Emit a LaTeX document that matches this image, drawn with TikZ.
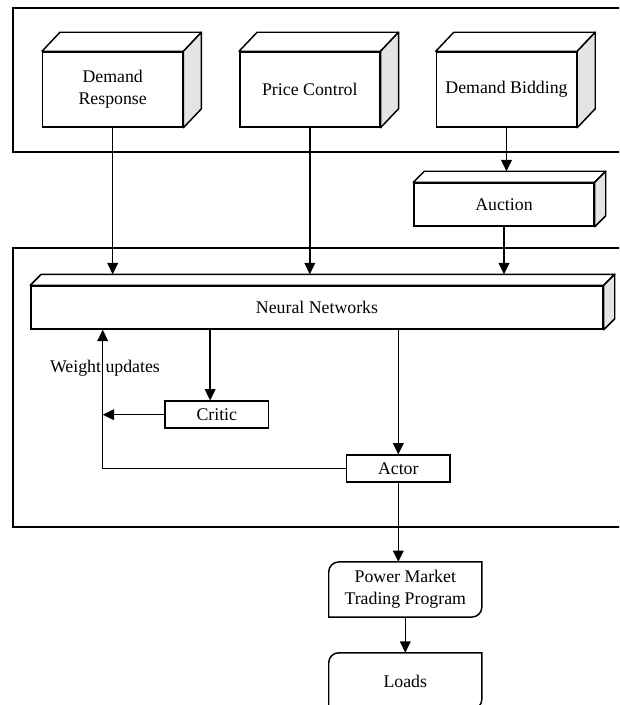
\documentclass[tikz,border=0pt]{standalone}
\usepackage{fontspec}
\setmainfont{Liberation Serif}
\usetikzlibrary{arrows.meta}
\definecolor{sidegray}{RGB}{228, 228, 228}

\tikzset{
  every node/.style={font=\fontsize{15.2}{18.5}\selectfont},
  box/.style={draw, fill=white, line width=1.25pt, align=center, inner sep=0pt},
  arr/.style={-{Triangle[length=0.34cm, width=0.32cm]}, line width=1.25pt},
  line/.style={line width=1.25pt}
}

% 3D block: top face and shaded side face on a node
\newcommand{\blockfaces}[3]{%
  \draw[line, fill=white, line join=round] (#1.north west) -- ([shift={(#2,#3)}]#1.north west)
    -- ([shift={(#2,#3)}]#1.north east) -- (#1.north east) -- cycle;
  \draw[line, fill=sidegray, line join=round] (#1.north east) -- ([shift={(#2,#3)}]#1.north east)
    -- ([shift={(#2,#3)}]#1.south east) -- (#1.south east) -- cycle;
}

\begin{document}
\begin{tikzpicture}[x=0.03cm, y=-0.03cm]
        \useasboundingbox (0,0) rectangle (619,705);
        \clip (0,0) rectangle (619,705);

        % Frames
        \draw[line] (13,8) rectangle (640,152);
        \draw[line] (13,248) rectangle (640,527);

        % Top layer
        \node[box, minimum width=4.2cm, minimum height=2.25cm] (dr) at (112.7,89.5) {Demand\\Response};
        \node[box, minimum width=4.2cm, minimum height=2.25cm] (pc) at (309.8,89.5) {Price Control};
        \node[box, minimum width=4.2cm, minimum height=2.25cm] (db) at (506.5,89.5) {Demand Bidding};
        \blockfaces{dr}{0.54cm}{0.57cm}
        \blockfaces{pc}{0.54cm}{0.57cm}
        \blockfaces{db}{0.54cm}{0.57cm}

        \node[box, minimum width=5.4cm, minimum height=1.29cm] (auction) at (504,204.5) {Auction};
        \blockfaces{auction}{0.33cm}{0.33cm}

        % Learning part
        \node[box, minimum width=17.16cm, minimum height=1.29cm] (nn) at (317,307.5) {Neural Networks};
        \blockfaces{nn}{0.33cm}{0.33cm}

        \node[box, minimum width=3.1cm, minimum height=0.81cm] (critic) at (216.8,414.7) {Critic};
        \node[box, minimum width=3.1cm, minimum height=0.81cm] (actor) at (398.3,468.7) {Actor};
        \node (wlabel) at (105,368) {Weight updates};

        % Output side
        \node[minimum width=4.58cm, minimum height=1.64cm, align=center, inner sep=0pt] (pmtp) at (405.3,589.5) {Power Market\\Trading Program};
        \node[minimum width=4.58cm, minimum height=1.68cm, inner sep=0pt] (loads) at (405.3,681) {Loads};
        \foreach \n in {pmtp, loads} {
          \draw[line] ([yshift=-0.3cm]\n.north west) arc[start angle=180, end angle=90, radius=0.3cm]
            -- (\n.north east) -- ([yshift=0.3cm]\n.south east)
            arc[start angle=0, end angle=-90, radius=0.3cm] -- (\n.south west) -- cycle;
        }

        \coordinate (nnback) at ([yshift=0.33cm]nn.north);
        \coordinate (aucback) at ([yshift=0.33cm]auction.north);
        \coordinate (fb) at (102.7,468.7);

        % Arrows
        \draw[arr] (dr.south) -- (dr.south |- nnback);
        \draw[arr] (pc.south) -- (pc.south |- nnback);
        \draw[arr] (db.south) -- (db.south |- aucback);
        \draw[arr] (auction.south) -- (auction.south |- nnback);
        \draw[arr] ([xshift=-0.2cm]critic.north |- nn.south) -- ([xshift=-0.2cm]critic.north);
        \draw[arr] (actor.north |- nn.south) -- (actor.north);
        \draw[arr] (critic.west) -- (critic.west -| fb);
        \draw[arr, line join=miter] (actor.west) -- (fb) -- (fb |- nn.south);
        \draw[arr] (actor.south) -- (actor.south |- pmtp.north);
        \draw[arr] (pmtp.south) -- (loads.north);
    \end{tikzpicture}
\end{document}
